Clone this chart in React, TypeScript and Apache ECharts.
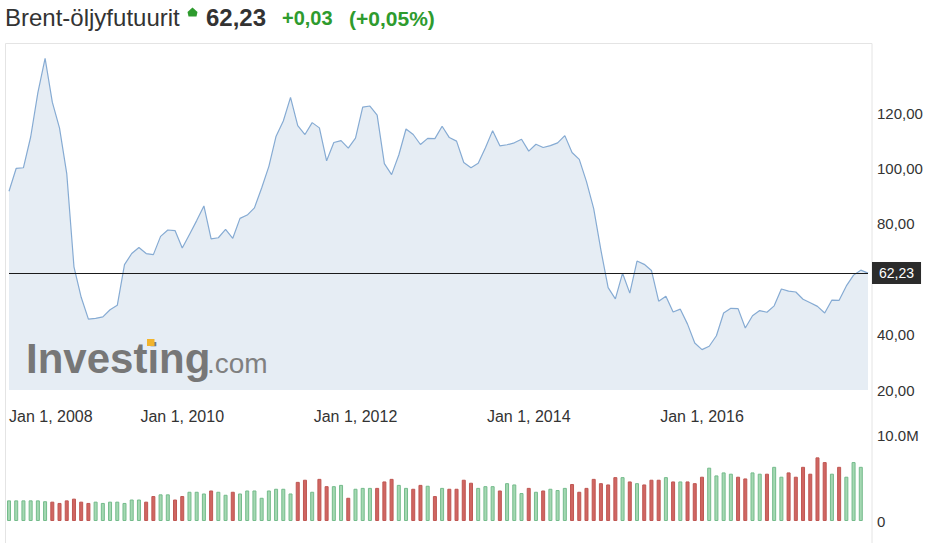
import React, { useEffect, useRef } from "react";
import * as echarts from "echarts";

// ---- data ----
const START_YEAR = 2008;
const prices: number[] = [
  91.8, 100.1, 100.3, 111.4, 127.4, 139.8, 124.0, 114.6, 98.2, 64.5, 53.5, 45.6,
  45.9, 46.4, 49.0, 50.6, 65.3, 69.3, 71.5, 69.3, 68.9, 75.5, 77.8, 77.6,
  71.3, 76.2, 81.2, 86.5, 74.6, 75.0, 78.0, 74.8, 82.0, 83.2, 85.8, 93.0,
  100.8, 111.7, 117.2, 125.7, 115.5, 112.3, 116.6, 114.7, 102.8, 109.4, 110.1, 107.4,
  111.0, 122.2, 122.6, 119.3, 101.8, 97.8, 104.9, 114.3, 112.3, 108.7, 110.9, 110.8,
  115.3, 111.2, 109.9, 102.2, 100.3, 101.9, 107.5, 113.7, 108.2, 108.6, 109.3, 110.6,
  106.3, 108.8, 107.6, 108.3, 109.3, 111.9, 105.8, 103.3, 95.3, 85.5, 70.5, 57.0,
  52.9, 62.2, 55.0, 66.6, 65.4, 63.2, 52.1, 53.9, 48.2, 49.2, 43.8, 37.0,
  34.6, 35.8, 39.6, 47.8, 49.5, 49.4, 42.4, 46.8, 48.7, 48.1, 50.4, 56.5,
  55.7, 55.4, 52.8, 51.5, 50.2, 47.8, 52.5, 52.4, 57.6, 61.5, 63.3, 62.23,
];
// monthly volume, millions
const volumes: number[] = [
  2.4, 2.4, 2.4, 2.4, 2.4, 2.3, 2.25, 2.1, 2.4, 2.6, 2.25, 2.1,
  2.25, 2.1, 2.25, 2.25, 2.1, 2.5, 2.5, 2.25, 2.9, 3.1, 3.1, 2.5,
  2.9, 3.4, 3.4, 3.2, 3.55, 3.4, 3.05, 3.4, 3.2, 3.55, 3.55, 2.7,
  3.55, 3.75, 3.75, 3.2, 4.55, 4.8, 3.4, 4.9, 4.05, 4.05, 4.2, 2.7,
  3.75, 3.85, 3.85, 3.85, 4.6, 4.9, 4.2, 3.85, 3.75, 4.2, 4.1, 2.9,
  3.85, 3.75, 3.75, 4.8, 4.45, 3.85, 4.05, 4.05, 3.55, 4.4, 4.25, 3.25,
  3.85, 3.4, 3.55, 3.75, 3.6, 3.85, 4.3, 3.4, 3.85, 4.9, 4.4, 4.25,
  5.1, 5.1, 4.6, 4.4, 4.25, 4.8, 4.8, 5.1, 4.6, 4.6, 4.6, 4.4,
  5.15, 6.2, 5.3, 5.65, 5.5, 5.15, 4.95, 5.65, 5.5, 5.5, 6.3, 5.15,
  5.65, 5.15, 6.3, 5.5, 7.4, 6.85, 5.5, 6.3, 5.15, 6.85, 6.3,
];
// u = up month (green), d = down month (red)
const volumeDirection: string[] = (
  "uuuuuu dddddd uuuuuuu dd uu dd uuu d uu d uuuuuuuu dd u dd uu d uuu ddd uu dd u d u dddd uuu d uuu d u d uuu ddddddd u d u ddd u d u ddd uuuu dd uu d uu dddddd u d uuu"
).replace(/ /g, "").split("");
const priceTickLabels = [20, 40, 80, 100, 120];
const currentPrice = 62.23;
const titleName = "Brent-öljyfutuurit";
const titlePrice = "62,23";
const titleChange = "+0,03";
const titleChangePct = "(+0,05%)";

const months: string[] = [];
for (let i = 0; i < prices.length; i++) {
  const y = START_YEAR + Math.floor(i / 12);
  const m = (i % 12) + 1;
  months.push(`${y}-${m < 10 ? "0" + m : m}`);
}

const FONT = 'Arial, "Liberation Sans", Helvetica, sans-serif';
const fmtComma = (v: number) => v.toFixed(2).replace(".", ",");

export default function App() {
  const ref = useRef<HTMLDivElement>(null);
  useEffect(() => {
    if (!ref.current) return;
    const chart = echarts.init(ref.current, undefined, { renderer: "svg" });
    const GREEN = "#2e9b2e";
    const option: any = {
      animation: false,
      backgroundColor: "#ffffff",
      textStyle: { fontFamily: FONT },
      grid: [
        { left: 9, right: 67, top: 44, height: 346 },
        { left: 9, right: 67, top: 435, height: 86 },
      ],
      xAxis: [
        {
          type: "category",
          gridIndex: 0,
          data: months,
          boundaryGap: false,
          axisLine: { show: false },
          axisTick: { show: false },
          splitLine: { show: false },
          axisLabel: {
            interval: (i: number) => i % 24 === 0,
            formatter: (v: string) => `Jan 1, ${v.slice(0, 4)}`,
            margin: 18,
            fontSize: 16,
            color: "#333",
            fontFamily: FONT,
            alignMinLabel: "left",
          },
        },
        {
          type: "category",
          gridIndex: 1,
          data: months,
          boundaryGap: false,
          axisLine: { show: false },
          axisTick: { show: false },
          axisLabel: { show: false },
          splitLine: { show: false },
        },
      ],
      yAxis: [
        {
          type: "value",
          gridIndex: 0,
          position: "right",
          min: 20,
          max: 145,
          interval: 20,
          axisLine: { show: false },
          axisTick: { show: false },
          splitLine: { show: false },
          axisLabel: {
            margin: 9,
            fontSize: 15,
            color: "#333",
            fontFamily: FONT,
            formatter: (v: number) => (priceTickLabels.includes(v) ? fmtComma(v) : ""),
          },
        },
        {
          type: "value",
          gridIndex: 1,
          position: "right",
          min: 0,
          max: 10e6,
          interval: 10e6,
          axisLine: { show: false },
          axisTick: { show: false },
          splitLine: { show: false },
          axisLabel: {
            margin: 9,
            fontSize: 15,
            color: "#333",
            fontFamily: FONT,
            formatter: (v: number) => (v === 0 ? "0" : (v / 1e6).toFixed(1) + "M"),
          },
        },
      ],
      series: [
        {
          type: "line",
          xAxisIndex: 0,
          yAxisIndex: 0,
          data: prices,
          symbol: "none",
          lineStyle: { color: "#86abd3", width: 1.2 },
          areaStyle: { color: "#e6edf4", opacity: 1 },
          z: 2,
          markLine: {
            silent: true,
            symbol: ["none", "none"],
            data: [{ yAxis: currentPrice }],
            lineStyle: { color: "#1a1a1a", width: 1, type: "solid" },
            label: {
              position: "end",
              formatter: fmtComma(currentPrice),
              backgroundColor: "#2b2b2b",
              color: "#ffffff",
              padding: [4, 7],
              fontSize: 14,
              fontFamily: FONT,
              distance: 4,
            },
            emphasis: { disabled: true },
          },
        },
        {
          type: "bar",
          xAxisIndex: 1,
          yAxisIndex: 1,
          barWidth: 4,
          data: volumes.map((v, i) => {
            const up = volumeDirection[i] === "u";
            return {
              value: v * 1e6,
              itemStyle: {
                color: up ? "#a4d8b2" : "#d06662",
                borderColor: up ? "#74bb8b" : "#bf5652",
                borderWidth: 1,
              },
            };
          }),
        },
      ],
      graphic: [
        {
          type: "rect",
          silent: true,
          z: -10,
          shape: { x: 5.5, y: 43.5, width: 866.5, height: 520 },
          style: { fill: "none", stroke: "#e4e4e4", lineWidth: 1 },
        },
        {
          type: "text",
          x: 5,
          y: 17.5,
          style: { text: titleName, fontSize: 24, fontFamily: FONT, fill: "#333", verticalAlign: "middle" },
        },
        {
          type: "polygon",
          shape: { points: [[192.5, 7.5], [197.5, 12], [196.5, 16.5], [188.5, 16.5], [187.5, 12]] },
          style: { fill: GREEN },
        },
        {
          type: "text",
          x: 206,
          y: 17.5,
          style: { text: titlePrice, fontSize: 24, fontWeight: "bold", fontFamily: FONT, fill: "#333", verticalAlign: "middle" },
        },
        {
          type: "text",
          x: 282,
          y: 18,
          style: { text: titleChange, fontSize: 20, fontWeight: "bold", fontFamily: FONT, fill: GREEN, verticalAlign: "middle" },
        },
        {
          type: "text",
          x: 349,
          y: 18,
          style: { text: titleChangePct, fontSize: 21, fontWeight: "bold", fontFamily: FONT, fill: GREEN, verticalAlign: "middle" },
        },
        {
          type: "text",
          x: 26,
          y: 358,
          z: 20,
          style: { text: "Investing", fontSize: 42, fontWeight: "bold", fontFamily: FONT, fill: "#777777", verticalAlign: "middle" },
        },
        {
          type: "text",
          x: 207,
          y: 363,
          z: 20,
          style: { text: ".com", fontSize: 28, fontFamily: FONT, fill: "#808080", verticalAlign: "middle" },
        },
        {
          type: "rect",
          z: 21,
          shape: { x: 147, y: 339, width: 7.5, height: 7 },
          style: { fill: "#f2b42c" },
        },
      ],
    };
    chart.setOption(option);
    return () => chart.dispose();
  }, []);
  return (
    <div
      ref={ref}
      style={{ position: "fixed", left: 0, top: 0, width: 935, height: 543, background: "#fff" }}
    />
  );
}
